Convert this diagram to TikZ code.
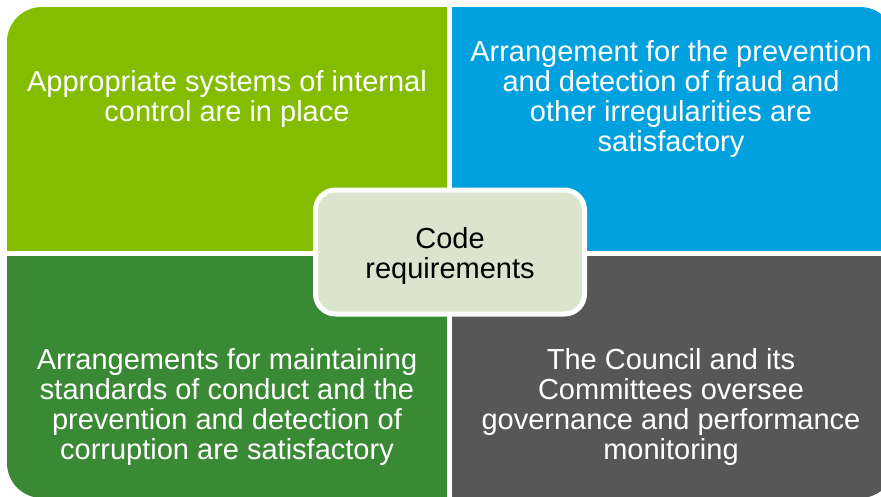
\documentclass[tikz,border=0pt]{standalone}
\usepackage{fontspec}
\setmainfont{Liberation Sans}
\definecolor{limegreen}{HTML}{84BC00}
\definecolor{skyblue}{HTML}{00A1DE}
\definecolor{leafgreen}{HTML}{3A8935}
\definecolor{slategray}{HTML}{575757}
\definecolor{palegreen}{HTML}{D9E6CD}
\tikzset{
  quadtext/.style={text=white, align=center, font=\fontsize{29}{30}\selectfont},
  codebox/.style={draw=white, line width=5pt, fill=palegreen, rounded corners=20pt,
    minimum width=269pt, minimum height=124pt, align=center,
    font=\fontsize{29}{30}\selectfont},
}
\begin{document}
\begin{tikzpicture}[x=1pt,y=-1pt]
      \useasboundingbox (0,0) rectangle (881,496);
      \clip (0,0) rectangle (881,496);
      % four cells cut out of one rounded block
      \begin{scope}
        \clip (0,0) rectangle (447,250);
        \fill[limegreen, rounded corners=35pt] (7,7) rectangle (895,498);
      \end{scope}
      \begin{scope}
        \clip (452,0) rectangle (900,250);
        \fill[skyblue, rounded corners=35pt] (7,7) rectangle (895,498);
      \end{scope}
      \begin{scope}
        \clip (0,256) rectangle (447,500);
        \fill[leafgreen, rounded corners=35pt] (7,7) rectangle (895,498);
      \end{scope}
      \begin{scope}
        \clip (452,256) rectangle (900,500);
        \fill[slategray, rounded corners=35pt] (7,7) rectangle (895,498);
      \end{scope}
      \draw
        (227,99) node[quadtext] (tl){Appropriate systems of internal\\control are in place}
        (671,99) node[quadtext] (tr){Arrangement for the prevention\\and detection of fraud and\\other irregularities are\\satisfactory}
        (227,407) node[quadtext] (bl){Arrangements for maintaining\\standards of conduct and the\\prevention and detection of\\corruption are satisfactory}
        (671,407) node[quadtext] (br){The Council and its\\Committees oversee\\governance and performance\\monitoring};
      \node[codebox] (code) at (450,252) {\parbox{8em}{\centering\vspace*{7pt}Code\\requirements}};
    \end{tikzpicture}
\end{document}
